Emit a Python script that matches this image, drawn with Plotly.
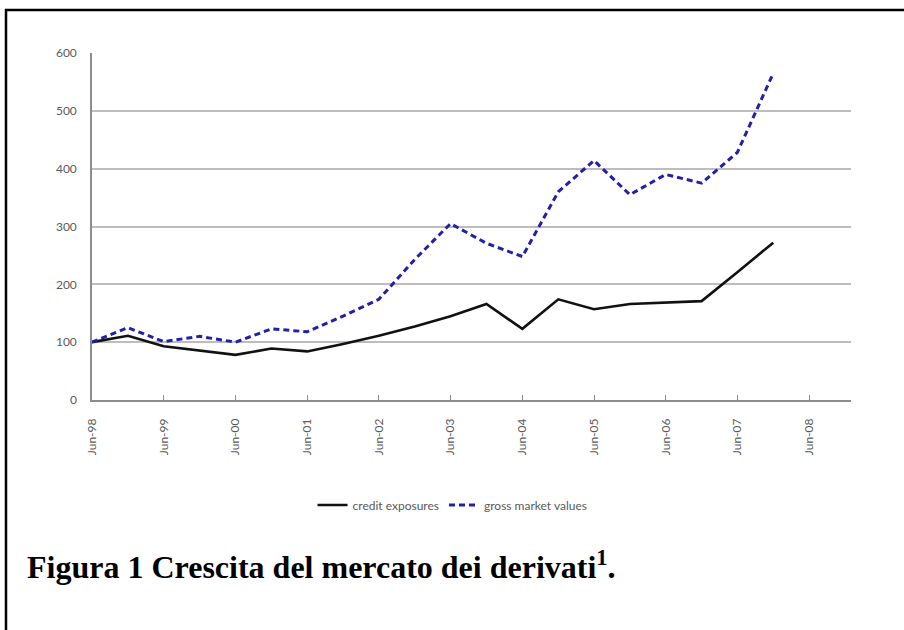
import plotly.graph_objects as go

# Semiannual observation dates (June and December), Jun-98 .. Dec-07
dates = [
    "1998-06-01", "1998-12-01", "1999-06-01", "1999-12-01", "2000-06-01",
    "2000-12-01", "2001-06-01", "2001-12-01", "2002-06-01", "2002-12-01",
    "2003-06-01", "2003-12-01", "2004-06-01", "2004-12-01", "2005-06-01",
    "2005-12-01", "2006-06-01", "2006-12-01", "2007-06-01", "2007-12-01",
]

# Index values (Jun-98 = 100)
credit_exposures = [100, 111, 93, 85, 78, 89, 84, 97, 111, 127,
                    145, 166, 123, 174, 157, 166, 169, 171, 221, 272]
gross_market_values = [100, 125, 101, 110, 100, 123, 118, 145, 174, 243,
                       305, 271, 248, 360, 414, 355, 390, 375, 428, 565]

tick_dates = ["1998-06-01", "1999-06-01", "2000-06-01", "2001-06-01",
              "2002-06-01", "2003-06-01", "2004-06-01", "2005-06-01",
              "2006-06-01", "2007-06-01", "2008-06-01"]
tick_labels = ["Jun-98", "Jun-99", "Jun-00", "Jun-01", "Jun-02", "Jun-03",
               "Jun-04", "Jun-05", "Jun-06", "Jun-07", "Jun-08"]

W, H = 904, 630
L, R, T, B = 92, 53, 53, 230
pw, ph = W - L - R, H - T - B


def px_x(x):
    return (x - L) / pw


def px_y(y):
    return (H - B - y) / ph


fig = go.Figure()
fig.add_trace(go.Scatter(
    x=dates, y=credit_exposures, mode="lines", name="credit exposures",
    line=dict(color="#111111", width=2.6),
))
fig.add_trace(go.Scatter(
    x=dates, y=gross_market_values, mode="lines", name="gross market values",
    line=dict(color="#2020a8", width=3, dash="6px,4px"),
))

axis_gray = "#8c8c8c"
label_font = dict(family="Lato, Open Sans, sans-serif", size=12, color="#5a5a5a")

fig.update_layout(
    width=W, height=H,
    margin=dict(l=L, r=R, t=T, b=B),
    paper_bgcolor="white", plot_bgcolor="white",
    showlegend=True,
    legend=dict(
        orientation="h", x=0.475, xanchor="center",
        y=px_y(505), yanchor="middle",
        font=dict(family="Lato, Open Sans, sans-serif", size=12, color="#5a5a5a"),
        itemwidth=30, bgcolor="rgba(0,0,0,0)",
    ),
    xaxis=dict(
        type="date", range=["1998-06-01", "2008-12-31"],
        tickvals=tick_dates, ticktext=tick_labels, tickangle=-90,
        tickfont=label_font, showgrid=False, zeroline=False,
        showline=True, linecolor=axis_gray, linewidth=1.5,
        ticks="inside", ticklen=5, tickcolor=axis_gray, tickwidth=1,
        ticklabelstandoff=12,
    ),
    yaxis=dict(
        range=[0, 600], tickvals=[0, 100, 200, 300, 400, 500, 600],
        tickfont=label_font, showgrid=True, gridcolor="#bdbdbd", gridwidth=1.5,
        zeroline=False, showline=True, linecolor=axis_gray, linewidth=1.5,
        ticks="", ticklabelstandoff=11,
    ),
    annotations=[dict(
        xref="paper", yref="paper", x=px_x(25), y=px_y(565),
        xanchor="left", yanchor="middle", showarrow=False,
        text="Figura 1 Crescita del mercato dei derivati<sup>1</sup>.",
        font=dict(family="Liberation Serif, Times New Roman, serif",
                  size=32, color="black", weight="bold"),
    )],
    shapes=[
        dict(type="line", xref="paper", yref="paper",
             x0=px_x(5), x1=px_x(W), y0=px_y(10), y1=px_y(10),
             line=dict(color="black", width=2.5)),
        dict(type="line", xref="paper", yref="paper",
             x0=px_x(6), x1=px_x(6), y0=px_y(9), y1=px_y(H),
             line=dict(color="black", width=2.5)),
    ],
)

fig.write_html("out.html")
